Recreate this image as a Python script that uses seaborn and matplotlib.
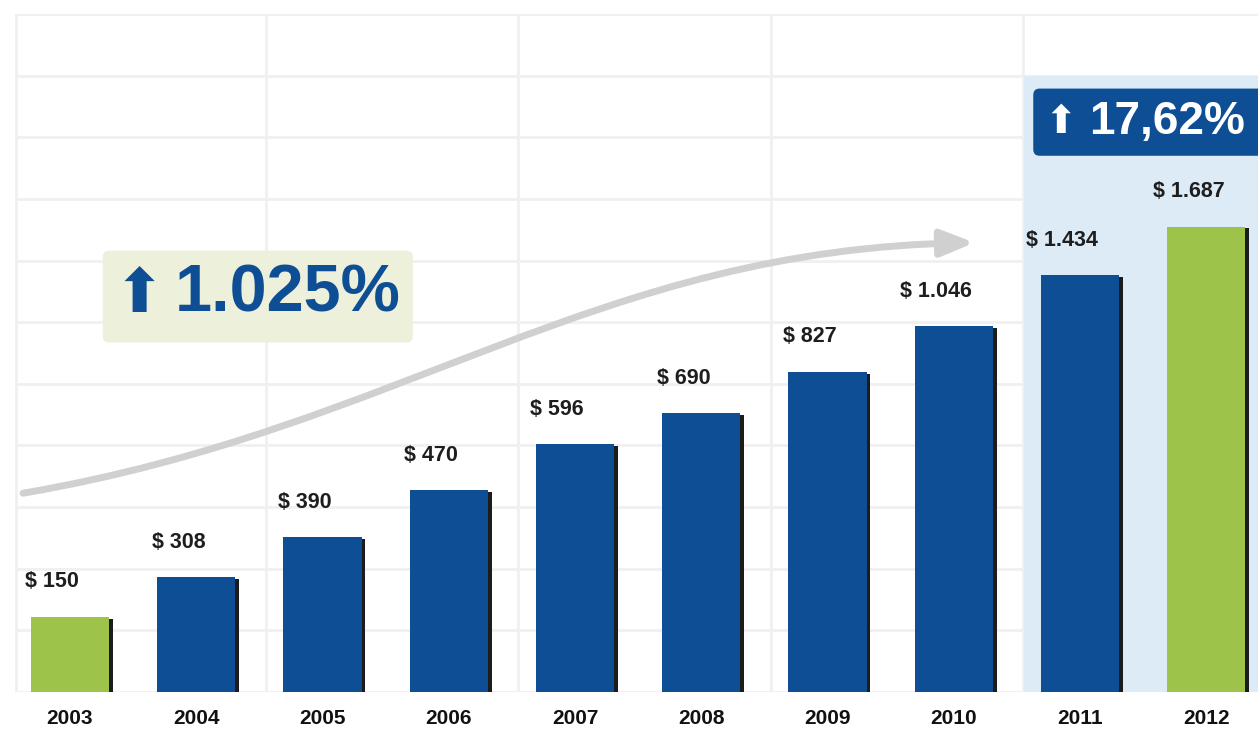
import numpy as np
import pandas as pd
import matplotlib
matplotlib.use("Agg")
import matplotlib.pyplot as plt
import seaborn as sns
from matplotlib.patches import Rectangle, FancyBboxPatch, FancyArrowPatch
from matplotlib.path import Path

# Data
years = ["2003", "2004", "2005", "2006", "2007", "2008", "2009", "2010", "2011", "2012"]
values = [150, 308, 390, 470, 596, 690, 827, 1046, 1434, 1687]
# drawn bar heights (the infographic is not to scale), in grid steps
bar_heights = [1.22, 1.86, 2.51, 3.27, 4.02, 4.52, 5.19, 5.93, 6.76, 7.55]
highlight_years = ["2003", "2012"]
total_growth = "1.025%"
last_growth = "17,62%"

BLUE = "#0D4E95"
GREEN = "#9DC34B"
GRID = "#F0F0F0"
FONT = ["Liberation Sans", "DejaVu Sans"]

sns.set_theme(style="white")
plt.rcParams["font.family"] = FONT

df = pd.DataFrame({"year": years, "height": bar_heights, "value": values})
palette = {y: (GREEN if y in highlight_years else BLUE) for y in years}

fig = plt.figure(figsize=(12.58, 7.30), dpi=100)
ax = fig.add_axes([15 / 1258, 38 / 730, 1243 / 1258, 678 / 730])

sns.barplot(data=df, x="year", y="height", hue="year", palette=palette,
            width=0.62, saturation=1, legend=False, ax=ax, zorder=3,
            linewidth=0, edgecolor="none")
bars = list(ax.patches)

# dark drop shadow on the right side of each bar
for p in bars:
    sh = Rectangle((p.get_x() + 0.03, p.get_y()), p.get_width(), p.get_height() - 0.03,
                   fc="#1c1c1c", ec="none", zorder=2.5)
    ax.add_patch(sh)

ax.set_xlim(-0.435, 9.41)
ax.set_ylim(0, 11)
ax.set_yticks(range(0, 12))
ax.set_yticklabels([])
ax.yaxis.grid(True, color=GRID, lw=2)
ax.set_axisbelow(True)
for xv in [-0.43, 1.55, 3.55, 5.55, 7.55]:
    ax.axvline(xv, color=GRID, lw=2, zorder=0)
for s in ax.spines.values():
    s.set_visible(False)
ax.set_xlabel("")
ax.set_ylabel("")
ax.tick_params(axis="x", length=0, pad=12, labelsize=15, labelcolor="#111111")
ax.tick_params(axis="y", length=0)
for lab in ax.get_xticklabels():
    lab.set_fontweight("bold")

# highlighted last two years
ax.add_patch(Rectangle((7.56, 0), 3, 10.0, fc="#DDEBF7", ec="none", zorder=1))
ax.add_patch(FancyBboxPatch((7.63, 8.70), 2.0, 1.09,
                            boxstyle="round,pad=0,rounding_size=0.05",
                            mutation_aspect=2.05, fc=BLUE, ec="none", zorder=4))
ax.text(7.85, 9.24, "\u2b06", ha="center", va="center", fontsize=28,
        color="white", family=["DejaVu Sans"], zorder=5)
ax.text(8.07, 9.25, last_growth, ha="left", va="center", fontsize=33,
        weight="bold", color="white", zorder=5)

# overall growth box
ax.add_patch(FancyBboxPatch((0.26, 5.67), 2.456, 1.49,
                            boxstyle="round,pad=0,rounding_size=0.05",
                            mutation_aspect=2.05, fc="#EDF0DB", ec="none", zorder=4))
ax.text(0.55, 6.43, "\u2b06", ha="center", va="center", fontsize=44,
        color=BLUE, family=["DejaVu Sans"], zorder=5)
ax.text(0.83, 6.45, total_growth, ha="left", va="center", fontsize=48,
        weight="bold", color=BLUE, zorder=5)

# curved grey growth arrow
p0 = (-0.372, 3.225)
p3 = (7.165, 7.29)
p1 = (p0[0] + 3.0, p0[1] + 1.05)
p2 = (p3[0] - 3.0, p3[1] - 0.09)
curve = Path([p0, p1, p2, p3], [Path.MOVETO, Path.CURVE4, Path.CURVE4, Path.CURVE4])
ax.add_patch(FancyArrowPatch(path=curve, arrowstyle="-|>,head_length=1.0,head_width=0.4",
                             mutation_scale=20, lw=5, color="#D0D0D0",
                             shrinkA=0, shrinkB=0, zorder=2, capstyle="round"))

# value labels
for i, (h, v) in enumerate(zip(bar_heights, values)):
    txt = "$ " + f"{v:,}".replace(",", ".")
    ax.text(i - 0.14, h + 0.57, txt, ha="center", va="center", fontsize=15.5,
            weight="bold", color="#1E1E1E", zorder=5)

fig.savefig("out.png", dpi=100)
